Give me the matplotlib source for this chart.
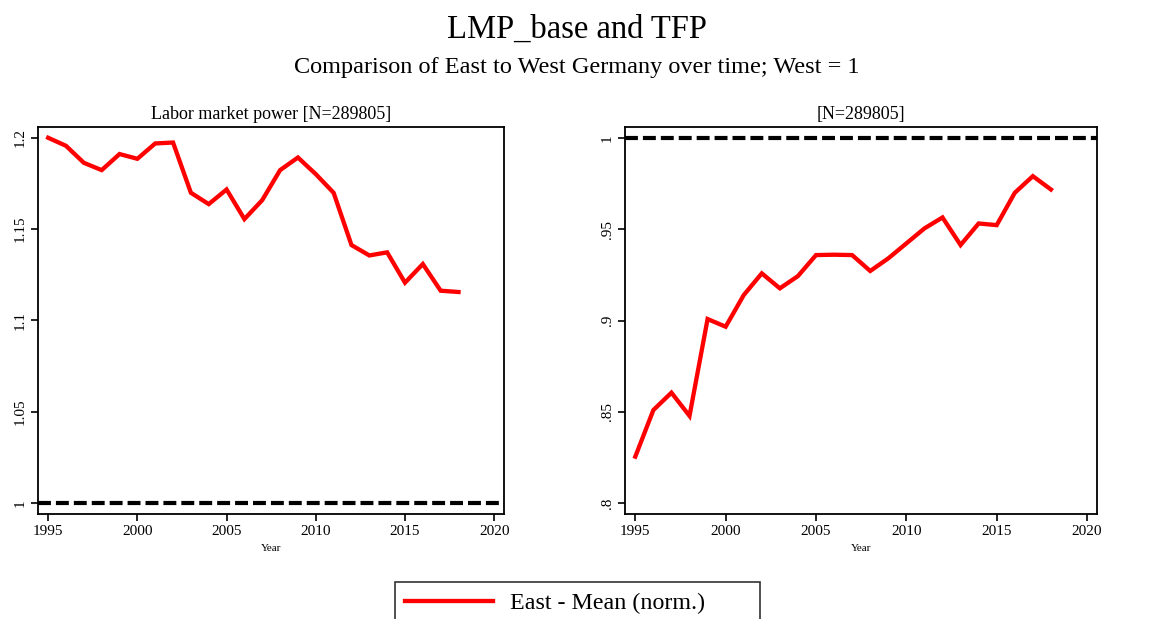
import matplotlib.pyplot as plt
from matplotlib.patches import Rectangle
from matplotlib.ticker import FixedLocator

plt.rcParams['font.family'] = ['Liberation Serif', 'DejaVu Serif']

years = list(range(1995, 2019))

# East relative to West (West = 1)
lmp_east = [1.200, 1.1956, 1.1863, 1.1823, 1.1911, 1.1885, 1.1969, 1.1974,
            1.1699, 1.1637, 1.1717, 1.1555, 1.1659, 1.1823, 1.1892, 1.1801,
            1.1699, 1.1413, 1.1356, 1.1373, 1.1207, 1.1309, 1.1163, 1.1156]
tfp_east = [0.8255, 0.8510, 0.8605, 0.8478, 0.9008, 0.8966, 0.9139, 0.9258,
            0.9176, 0.9243, 0.9358, 0.9360, 0.9358, 0.9271, 0.9340, 0.9422,
            0.9504, 0.9564, 0.9413, 0.9531, 0.9522, 0.9699, 0.9790, 0.9717]

lmp_ticks = [1, 1.05, 1.1, 1.15, 1.2]
lmp_labels = ['1', '1.05', '1.1', '1.15', '1.2']
tfp_ticks = [0.8, 0.85, 0.9, 0.95, 1]
tfp_labels = ['.8', '.85', '.9', '.95', '1']
year_ticks = [1995, 2000, 2005, 2010, 2015, 2020]

W, H = 1153, 619
fig = plt.figure(figsize=(W / 100, H / 100), dpi=100)

def px_axes(x0, y0, x1, y1):
    return fig.add_axes([x0 / W, 1 - y1 / H, (x1 - x0) / W, (y1 - y0) / H])

ax1 = px_axes(38, 127, 504, 514)
ax2 = px_axes(625, 127, 1097, 514)

panels = [
    (ax1, lmp_east, lmp_ticks, lmp_labels, 'Labor market power [N=289805]', (0.9941, 1.2059)),
    (ax2, tfp_east, tfp_ticks, tfp_labels, '[N=289805]', (0.7941, 1.0059)),
]

for ax, vals, yt, yl, title, ylim in panels:
    line, = ax.plot(years, vals, color='red', lw=3.1, solid_joinstyle='miter')
    ax.axhline(1, color='black', lw=3, ls=(0, (3.1, 1.2)))
    ax.set_xlim(1994.43, 2020.55)
    ax.set_ylim(*ylim)
    ax.set_xticks(year_ticks)
    ax.set_xticklabels([str(y) for y in year_ticks], fontsize=11)
    ax.yaxis.set_major_locator(FixedLocator(yt))
    ax.set_yticklabels(yl, fontsize=11, rotation=90, va='center')
    ax.set_xlabel('Year', fontsize=8, labelpad=4)
    ax.set_title(title, fontsize=13, pad=6)
    ax.tick_params(direction='out', length=5, width=1.2, pad=3)
    for s in ax.spines.values():
        s.set_linewidth(1.3)

fig.text(0.5, 1 - 30 / H, 'LMP_base and TFP', ha='center', va='center', fontsize=23.5)
fig.text(0.5, 1 - 67 / H, 'Comparison of East to West Germany over time; West = 1',
         ha='center', va='center', fontsize=17.5)

# legend box (Stata style, cut off at the bottom edge)
fig.patches.append(Rectangle((395 / W, 1 - 640 / H), 365 / W, 58 / H,
                             transform=fig.transFigure, fill=False,
                             edgecolor='#333333', lw=1.2))
fig.legend([line], ['East - Mean (norm.)'], loc='center left',
           bbox_to_anchor=(405 / W, 1 - 603 / H), fontsize=17.3,
           frameon=False, handlelength=3.67, handletextpad=0.7,
           borderpad=0, borderaxespad=0)

fig.savefig('out.png', dpi=100)
